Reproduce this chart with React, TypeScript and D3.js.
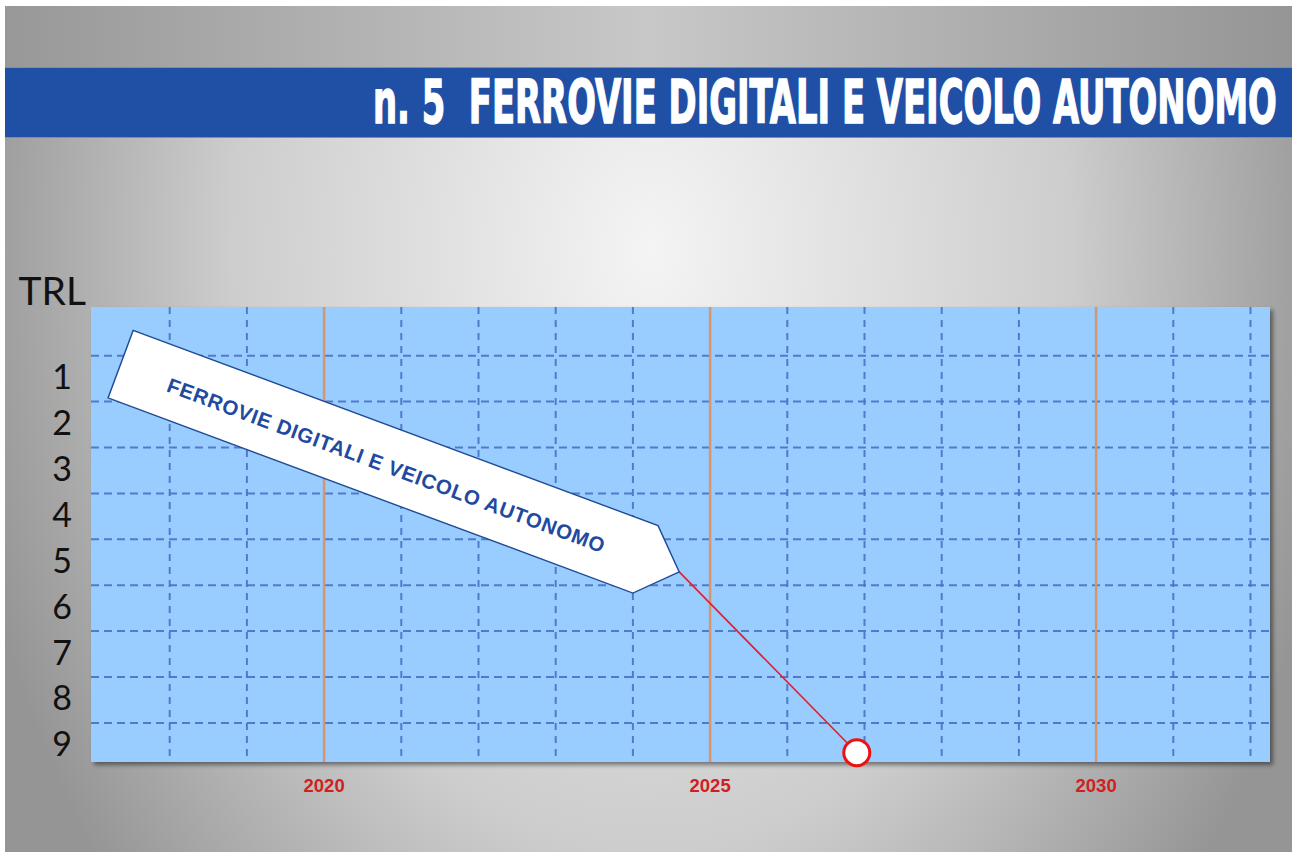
import React, { useLayoutEffect, useRef, useState } from "react";
import * as d3 from "d3";

// ---- data ----
const TITLE = "n. 5  FERROVIE DIGITALI E VEICOLO AUTONOMO";
const AXIS_TITLE = "TRL";
const trlLevels = [1, 2, 3, 4, 5, 6, 7, 8, 9];
const gridYears = [2018, 2019, 2020, 2021, 2022, 2023, 2024, 2025, 2026, 2027, 2028, 2029, 2030, 2031, 2032];
const majorYears = [2020, 2025, 2030];
const callouts = [
  { label: "FERROVIE DIGITALI E VEICOLO AUTONOMO", tipYear: 2024.6, tipTrl: 5.71, year: 2026.9, trl: 9.65 },
];

// ---- layout ----
const W = 1292;
const H = 852;
const plot = { left: 91, right: 1270, top: 307, bottom: 762 };
const TITLE_X = 373;
const TITLE_W = 904;

export default function App() {
  const x = d3.scaleLinear().domain([2017, 2032]).range([92.5, 1250.5]);
  const y = d3.scaleLinear().domain([0, 10]).range([309.8, 768.8]);

  const titleRef = useRef<SVGTextElement | null>(null);
  const [titleScale, setTitleScale] = useState(0.6);
  useLayoutEffect(() => {
    const el = titleRef.current;
    if (el) {
      const w = el.getComputedTextLength();
      if (w > 0) setTitleScale(TITLE_W / w);
    }
  }, []);

  const angle = 20.4;
  const rad = (angle * Math.PI) / 180;
  const cu = Math.cos(rad);
  const su = Math.sin(rad);
  const hh = 36;
  const shapeLocal: [number, number][] = [
    [0, 0],
    [-hh, hh],
    [-596, hh],
    [-596, -hh],
    [-hh, -hh],
  ];

  return (
    <svg
      width={W}
      height={H}
      style={{ position: "absolute", left: 0, top: 0, display: "block" }}
      xmlns="http://www.w3.org/2000/svg"
    >
      <defs>
        <radialGradient
          id="bg"
          gradientUnits="userSpaceOnUse"
          cx={0}
          cy={0}
          r={1}
          gradientTransform="translate(650,250) scale(700,1000)"
        >
          <stop offset="0" stopColor="#f4f4f4" />
          <stop offset="0.6" stopColor="#cdcdcd" />
          <stop offset="1" stopColor="#959595" />
        </radialGradient>
        <linearGradient id="topbg" x1="0" x2="1" y1="0" y2="0">
          <stop offset="0" stopColor="#989898" />
          <stop offset="0.5" stopColor="#c8c8c8" />
          <stop offset="1" stopColor="#959595" />
        </linearGradient>
        <filter id="shadow" x="-5%" y="-5%" width="110%" height="115%">
          <feDropShadow dx="3" dy="3" stdDeviation="2" floodColor="#000" floodOpacity="0.45" />
        </filter>
      </defs>

      <rect x={0} y={0} width={W} height={H} fill="#ffffff" />
      <rect x={5} y={6} width={W - 5} height={H - 6} fill="url(#bg)" />
      <rect x={5} y={6} width={W - 5} height={61} fill="url(#topbg)" />

      {/* banner */}
      <rect x={5} y={67} width={W - 5} height={71} fill="#2050a6" />
      <line x1={5} x2={W} y1={67.5} y2={67.5} stroke="#6f8fc8" strokeWidth={1} />
      <line x1={5} x2={W} y1={137.5} y2={137.5} stroke="#6f8fc8" strokeWidth={1} />
      <g transform={`translate(${TITLE_X},123) scale(${titleScale},1)`}>
        <text
          ref={titleRef}
          x={0}
          y={0}
          fill="#ffffff"
          stroke="#ffffff"
          strokeWidth={1.4}
          fontFamily="'DejaVu Sans Condensed', 'Liberation Sans Narrow', 'Liberation Sans', sans-serif"
          fontWeight="bold"
          fontStretch="condensed"
          fontSize={60}
          style={{ whiteSpace: "pre" }}
        >
          {TITLE}
        </text>
      </g>

      {/* plot area */}
      <rect
        x={plot.left}
        y={plot.top}
        width={plot.right - plot.left}
        height={plot.bottom - plot.top}
        fill="#99ccff"
        filter="url(#shadow)"
      />

      {/* horizontal dashed grid */}
      {trlLevels.map((k) => (
        <line
          key={"h" + k}
          x1={plot.left}
          x2={plot.right}
          y1={y(k)}
          y2={y(k)}
          stroke="#4a72c8"
          strokeWidth={2}
          strokeDasharray="8,5"
          opacity={0.9}
        />
      ))}

      {/* vertical grid */}
      {gridYears.map((yr) =>
        majorYears.includes(yr) ? (
          <line
            key={"v" + yr}
            x1={x(yr)}
            x2={x(yr)}
            y1={plot.top}
            y2={plot.bottom}
            stroke="#d8946a"
            strokeWidth={2.5}
          />
        ) : (
          <line
            key={"v" + yr}
            x1={x(yr)}
            x2={x(yr)}
            y1={plot.top}
            y2={plot.bottom}
            stroke="#4a72c8"
            strokeWidth={2}
            strokeDasharray="7,6"
            opacity={0.9}
          />
        )
      )}

      {/* y labels */}
      <text
        x={86}
        y={305}
        textAnchor="end"
        fontFamily="Lato, 'Open Sans', sans-serif"
        fontSize={39}
        fill="#111"
      >
        {AXIS_TITLE}
      </text>
      {trlLevels.map((k) => (
        <text
          key={"l" + k}
          x={72}
          y={y(k + 0.5) - 3}
          textAnchor="end"
          dominantBaseline="central"
          fontFamily="Lato, 'Open Sans', sans-serif"
          fontSize={34}
          fill="#111"
        >
          {k}
        </text>
      ))}

      {/* x labels */}
      {majorYears.map((yr) => (
        <text
          key={"t" + yr}
          x={x(yr)}
          y={792}
          textAnchor="middle"
          fontFamily="'Liberation Sans', Arial, sans-serif"
          fontWeight="bold"
          fontSize={18.5}
          fill="#d01f1f"
        >
          {yr}
        </text>
      ))}

      {/* callouts */}
      {callouts.map((c, i) => {
        const tx = x(c.tipYear);
        const ty = y(c.tipTrl);
        const pts = shapeLocal
          .map(([u, v]) => [tx + u * cu - v * su, ty + u * su + v * cu])
          .map((p) => p.join(","))
          .join(" ");
        const cu0 = -312;
        const cv0 = 2;
        const lx = tx + cu0 * cu - cv0 * su;
        const ly = ty + cu0 * su + cv0 * cu;
        return (
          <g key={"c" + i}>
            <line
              x1={tx}
              y1={ty}
              x2={x(c.year)}
              y2={y(c.trl)}
              stroke="#e0202a"
              strokeWidth={1.6}
            />
            <polygon points={pts} fill="#ffffff" stroke="#1f4a96" strokeWidth={1.4} />
            <text
              x={lx}
              y={ly}
              transform={`rotate(${angle},${lx},${ly})`}
              textAnchor="middle"
              dominantBaseline="central"
              fontFamily="'Liberation Sans', Arial, sans-serif"
              fontWeight="bold"
              fontSize={20.5}
              fill="#1f4aa0"
              textLength={465}
              lengthAdjust="spacing"
            >
              {c.label}
            </text>
            <circle
              cx={x(c.year)}
              cy={y(c.trl)}
              r={13}
              fill="#ffffff"
              stroke="#ee1111"
              strokeWidth={3}
            />
          </g>
        );
      })}
    </svg>
  );
}
